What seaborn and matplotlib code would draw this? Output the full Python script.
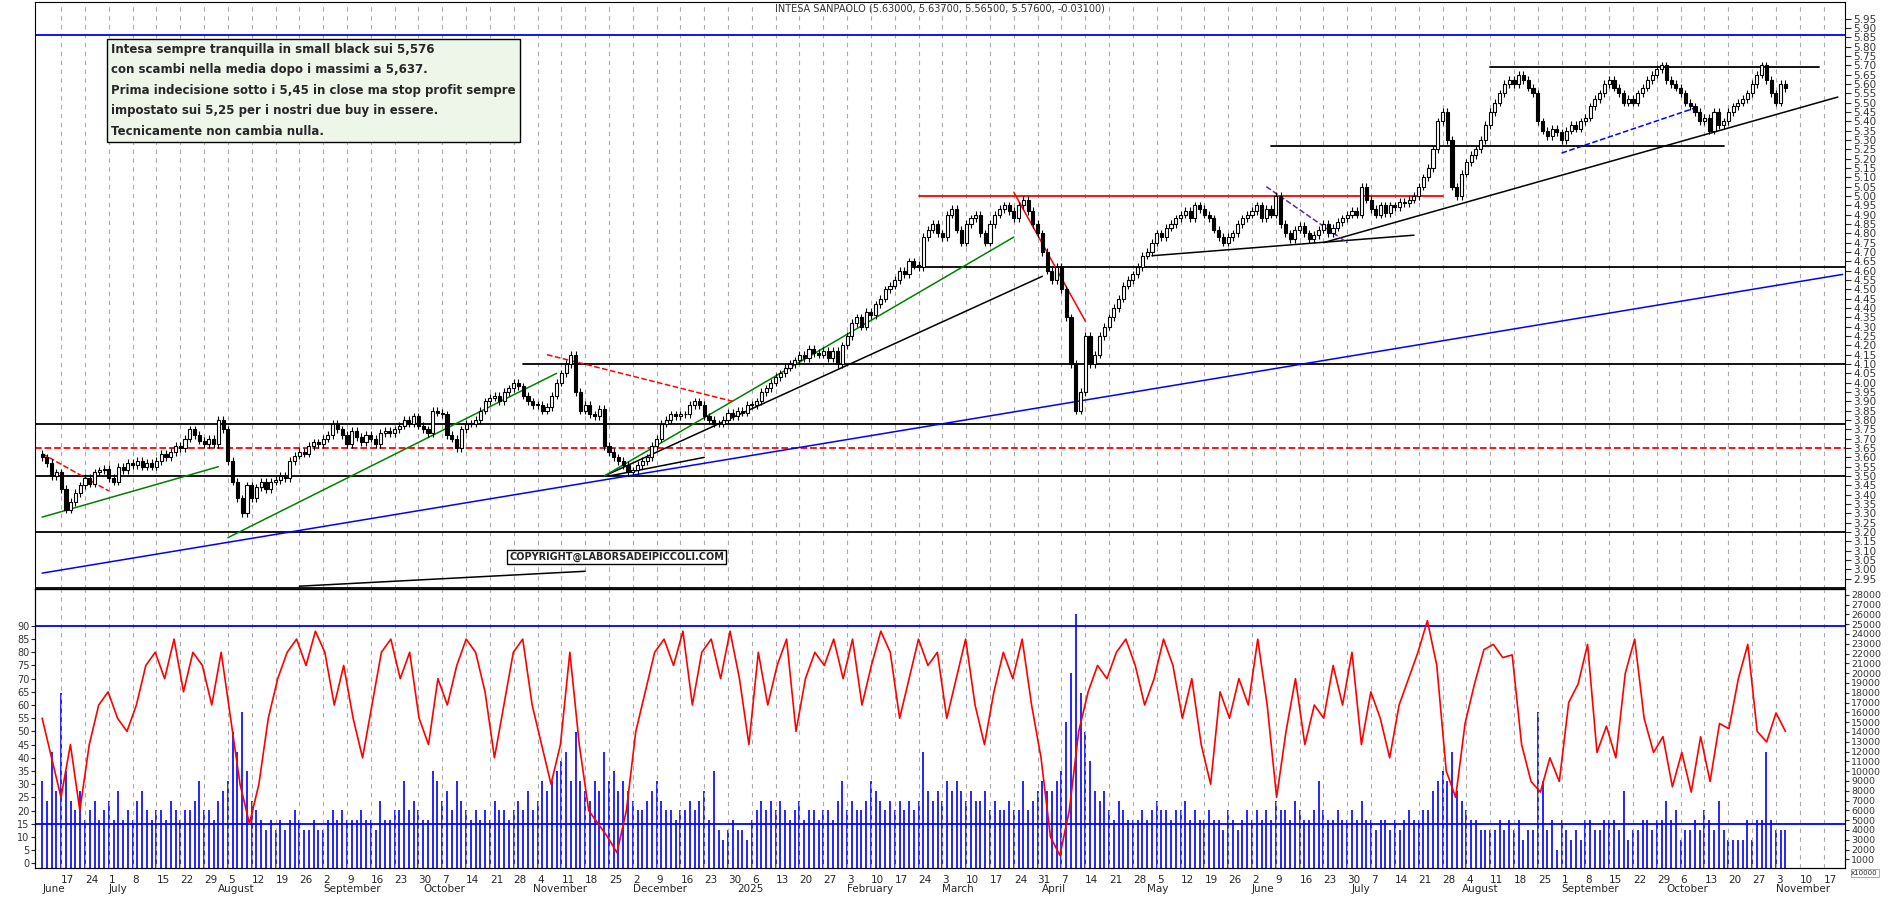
import numpy as np
import pandas as pd
import seaborn as sns
import matplotlib.pyplot as plt

# daily closes, grouped by week (Jun 2024 -> Nov 2025)
closes = [
    3.60, 3.57,
    3.50, 3.52, 3.43, 3.32, 3.36, 3.41, 3.45, 3.49, 3.46, 3.52, 3.53, 3.54, 3.49, 3.47, 3.55,
    3.53, 3.57, 3.56, 3.58, 3.55, 3.57, 3.55, 3.58, 3.62, 3.60, 3.63, 3.66, 3.65, 3.70, 3.75,
    3.72, 3.69, 3.67, 3.70, 3.67, 3.80, 3.75, 3.58, 3.47, 3.38,
    3.30, 3.45, 3.38, 3.44, 3.47, 3.43, 3.47, 3.48, 3.50, 3.49, 3.58, 3.61, 3.63, 3.62, 3.66,
    3.68, 3.67, 3.70, 3.72, 3.78,
    3.75, 3.72, 3.67, 3.74, 3.71, 3.68, 3.72, 3.70, 3.67, 3.73, 3.74, 3.73, 3.75, 3.77, 3.80,
    3.78, 3.82, 3.77, 3.75, 3.73, 3.85, 3.84, 3.83, 3.72, 3.70,
    3.65, 3.75, 3.78, 3.78, 3.80, 3.85, 3.90, 3.92, 3.93, 3.90, 3.95, 3.97, 4.00, 3.98, 3.93,
    3.90, 3.88, 3.88, 3.85, 3.87,
    3.93, 4.00, 4.05, 4.10, 4.15, 3.95, 3.85, 3.88, 3.83, 3.82, 3.86, 3.66, 3.63, 3.60, 3.58,
    3.56, 3.52, 3.53, 3.56, 3.58,
    3.60, 3.66, 3.70, 3.78, 3.80, 3.83, 3.82, 3.83, 3.83, 3.88, 3.90, 3.88, 3.82, 3.80, 3.78,
    3.78, 3.80, 3.84, 3.82, 3.85, 3.84, 3.88, 3.88, 3.90, 3.95,
    3.97, 4.00, 4.03, 4.05, 4.08, 4.10, 4.12, 4.15, 4.13, 4.18, 4.16, 4.15, 4.17, 4.13, 4.17,
    4.10, 4.20, 4.25, 4.32, 4.35,
    4.30, 4.38, 4.36, 4.42, 4.45, 4.50, 4.52, 4.55, 4.60, 4.58, 4.65, 4.63, 4.62, 4.78, 4.82,
    4.85, 4.80, 4.78, 4.90, 4.93,
    4.82, 4.75, 4.85, 4.88, 4.90, 4.80, 4.75, 4.85, 4.90, 4.93, 4.95, 4.92, 4.88, 4.95, 4.98,
    4.92, 4.85, 4.80, 4.70, 4.60, 4.55, 4.62, 4.50, 4.35, 4.10,
    3.85, 3.95, 4.25, 4.10, 4.15, 4.25, 4.30, 4.35, 4.40, 4.45, 4.52, 4.55, 4.58,
    4.62, 4.68, 4.70, 4.75,
    4.80, 4.78, 4.83, 4.85, 4.88, 4.90, 4.92, 4.88, 4.95, 4.93, 4.90, 4.88, 4.82, 4.78, 4.75,
    4.78, 4.80, 4.85, 4.88, 4.90,
    4.92, 4.95, 4.88, 4.93, 4.90, 5.00, 4.85, 4.80, 4.77, 4.82, 4.84, 4.80, 4.77, 4.79, 4.82,
    4.85, 4.80, 4.83, 4.86, 4.88,
    4.90, 4.92, 4.90, 5.05, 4.98, 4.93, 4.90, 4.95, 4.91, 4.95, 4.94, 4.97, 4.96, 4.98, 5.00,
    5.05, 5.10, 5.15, 5.25, 5.40, 5.45, 5.30, 5.05, 5.00, 5.12,
    5.18, 5.22, 5.25, 5.30, 5.38, 5.45, 5.50, 5.55, 5.60, 5.62, 5.60, 5.65, 5.62, 5.58, 5.55,
    5.40, 5.35, 5.32, 5.36, 5.34,
    5.30, 5.35, 5.38, 5.36, 5.40, 5.42, 5.48, 5.52, 5.55, 5.60, 5.62, 5.58, 5.55, 5.50, 5.52,
    5.50, 5.55, 5.58, 5.62, 5.65, 5.68, 5.70, 5.62, 5.60, 5.58,
    5.55, 5.50, 5.48, 5.45, 5.40, 5.42, 5.35, 5.45, 5.38, 5.40, 5.45, 5.48, 5.50, 5.52, 5.55,
    5.60, 5.65, 5.70, 5.62, 5.55, 5.50, 5.60, 5.576,
]
first_open = 3.62

# volume, thousands (right axis units), same grouping
volume = [
    9, 7,
    12, 8, 18, 10, 7, 6, 8, 5, 6, 7, 5, 6, 7, 5, 8,
    5, 6, 5, 7, 8, 6, 5, 6, 6, 5, 7, 6, 5, 6, 6,
    7, 9, 6, 6, 5, 7, 8, 9, 14, 12,
    16, 10, 7, 6, 5, 4, 5, 4, 5, 4, 5, 6, 5, 4, 4,
    5, 4, 4, 5, 6,
    5, 6, 5, 5, 5, 6, 5, 5, 4, 7, 5, 5, 6, 6, 9,
    6, 7, 6, 5, 5, 10, 9, 7, 8, 6,
    9, 7, 6, 5, 6, 5, 6, 5, 7, 6, 6, 5, 6, 7, 6,
    8, 6, 7, 9, 8,
    9, 10, 11, 12, 9, 14, 9, 8, 7, 9, 8, 12, 9, 10, 8,
    9, 8, 7, 6, 6,
    7, 8, 9, 7, 6, 6, 5, 6, 6, 7, 6, 7, 8, 5, 10,
    4, 3, 4, 5, 4, 4, 3, 5, 6, 7,
    6, 7, 6, 7, 6, 5, 6, 7, 5, 6, 6, 5, 6, 6, 5,
    7, 9, 6, 7, 6,
    6, 7, 9, 8, 7, 6, 7, 6, 7, 6, 7, 6, 7, 12, 8,
    7, 8, 7, 9, 8,
    9, 8, 7, 8, 7, 7, 8, 6, 7, 6, 6, 7, 6, 6, 9,
    6, 7, 8, 9, 8, 8, 9, 10, 15, 20,
    26, 18, 14, 11, 8, 7, 8, 6, 5, 7, 6, 5, 5,
    5, 6, 5, 6,
    7, 6, 6, 5, 6, 6, 7, 5, 6, 5, 5, 6, 5, 5, 4,
    6, 5, 4, 5, 6,
    5, 6, 5, 6, 5, 7, 6, 6, 5, 7, 6, 5, 5, 6, 9,
    6, 5, 5, 6, 5,
    5, 6, 5, 7, 5, 5, 4, 5, 5, 4, 5, 4, 5, 6, 5,
    5, 6, 6, 8, 9, 10, 9, 12, 8, 7,
    6, 5, 5, 4, 4, 4, 4, 5, 4, 5, 4, 5, 3, 4, 4,
    16, 9, 4, 5, 2,
    5, 4, 3, 4, 3, 5, 5, 4, 4, 5, 5, 5, 4, 8, 3,
    4, 4, 5, 5, 4, 5, 5, 7, 5, 6,
    3, 4, 4, 5, 4, 6, 5, 4, 7, 4, 3, 3, 3, 3, 5,
    3, 5, 5, 12, 5, 4, 4, 4,
]

# oscillator (left scale 0-90), one reading every second session
oscillator = [
    55, 40, 25, 45, 20, 45, 60, 65, 55,
    50, 60, 75, 80, 70, 85, 65, 80, 75, 60, 80,
    55, 30, 15, 30, 55, 70, 80, 85, 75, 88, 80,
    60, 75, 55, 40, 60, 80, 85, 70, 80, 55, 45,
    70, 60, 75, 85, 80, 65, 40, 60, 80, 85, 60,
    45, 30, 45, 80, 45, 20, 15, 10, 4, 20, 50,
    65, 80, 85, 75, 88, 60, 80, 85, 70, 88, 70,
    45, 80, 60, 75, 85, 50, 70, 80, 75, 85, 70,
    85, 60, 75, 88, 80, 55, 70, 85, 75, 80,
    55, 70, 85, 60, 45, 65, 80, 70, 85, 60, 40,
    10, 3, 20, 50, 65, 75, 70, 80, 85, 75, 60,
    70, 85, 75, 55, 70, 45, 30, 65, 55, 70, 60,
    85, 60, 25, 50, 70, 45, 60, 55, 75, 60, 80,
    45, 65, 55, 40, 60, 70, 80, 92, 75, 35, 25,
    53, 68, 81, 83, 78, 79, 45, 31, 27, 40, 31,
    61, 68, 83, 42, 52, 40, 72, 85, 55, 42, 48,
    29, 42, 27, 48, 31, 53, 51, 70, 83, 50, 46, 57, 50,
]

title = "INTESA SANPAOLO (5.63000, 5.63700, 5.56500, 5.57600, -0.03100)"
note = ("Intesa sempre tranquilla in small black sui 5,576\n"
        "con scambi nella media dopo i massimi a 5,637.\n"
        "Prima indecisione sotto i 5,45 in close ma stop profit sempre\n"
        "impostato sui 5,25 per i nostri due buy in essere.\n"
        "Tecnicamente non cambia nulla.")

# horizontal levels: price, start, end, colour, style
levels = [
    (5.86, None, None, "blue", "-"),
    (5.69, "2025-08-11", "2025-11-14", "black", "-"),
    (5.27, "2025-06-06", "2025-10-17", "black", "-"),
    (5.00, "2025-02-24", "2025-07-28", "red", "-"),
    (4.62, "2025-02-20", None, "black", "-"),
    (4.10, "2024-10-30", None, "black", "-"),
    (3.78, None, None, "black", "-"),
    (3.65, None, None, "red", "--"),
    (3.50, None, None, "black", "-"),
    (3.20, None, None, "black", "-"),
    (2.90, None, None, "black", "-"),
]
# trend lines: (date, price), (date, price), colour, style
trends = [
    (("2024-06-05", 2.98), ("2025-11-21", 4.58), "blue", "-"),
    (("2024-11-22", 3.50), ("2025-04-01", 4.57), "black", "-"),
    (("2024-11-25", 3.50), ("2024-12-23", 3.60), "black", "-"),
    (("2024-06-10", 3.28), ("2024-08-01", 3.55), "green", "-"),
    (("2024-08-05", 3.17), ("2024-11-08", 4.05), "green", "-"),
    (("2024-11-22", 3.50), ("2025-03-24", 4.78), "green", "-"),
    (("2024-06-05", 3.62), ("2024-07-01", 3.42), "red", "--"),
    (("2024-11-06", 4.15), ("2024-12-31", 3.90), "red", "--"),
    (("2025-03-24", 5.02), ("2025-04-14", 4.33), "red", "-"),
    (("2024-08-26", 2.91), ("2024-11-18", 2.99), "black", "-"),
    (("2025-05-02", 4.68), ("2025-07-18", 4.79), "black", "-"),
    (("2025-06-23", 4.75), ("2025-11-20", 5.53), "black", "-"),
    (("2025-06-05", 5.05), ("2025-06-30", 4.75), "#5a2ca0", "--"),
    (("2025-09-01", 5.23), ("2025-10-10", 5.48), "blue", "--"),
]

n = min(len(closes), len(volume))
closes = np.array(closes[:n])
volume = np.array(volume[:n]) * 1000
dates = pd.bdate_range(end="2025-11-05", periods=n)
all_days = pd.bdate_range(start=dates[0], end="2025-11-21")
idx = pd.Series(np.arange(len(all_days)), index=all_days)

def day_x(d):
    return idx.index.get_indexer([pd.Timestamp(d)], method="nearest")[0]

opens = np.concatenate([[first_open], closes[:-1]])
highs = np.maximum(opens, closes) + 0.02
lows = np.minimum(opens, closes) - 0.02
x = np.arange(n)

sns.set_style("white")
plt.rcParams["font.family"] = ["DejaVu Sans"]
fig = plt.figure(figsize=(18.9, 9.02), dpi=100)
L, W = 35 / 1890, 1810 / 1890
ax = fig.add_axes([L, 1 - 589 / 902, W, 589 / 902 - 0.002])
axv = fig.add_axes([L, 34 / 902, W, 279 / 902])
xmin, xmax = -1.5, len(all_days) - 0.5

# candles
ax.vlines(x, lows, highs, color="black", lw=0.8, zorder=3)
up = closes >= opens
body = np.maximum(np.abs(closes - opens), 0.004)
ax.bar(x[up], body[up], bottom=opens[up], width=0.65, color="white",
       edgecolor="black", lw=0.8, zorder=4)
ax.bar(x[~up], body[~up], bottom=closes[~up], width=0.65, color="black",
       edgecolor="black", lw=0.8, zorder=4)

for price, s, e, c, ls in levels:
    x0 = xmin if s is None else day_x(s)
    x1 = xmax if e is None else day_x(e)
    ax.plot([x0, x1], [price, price], color=c, ls=ls, lw=1.3, zorder=2)
for (d0, p0), (d1, p1), c, ls in trends:
    ax.plot([day_x(d0), day_x(d1)], [p0, p1], color=c, ls=ls, lw=1.1, zorder=2)

ax.set_xlim(xmin, xmax)
ax.set_ylim(2.895, 6.04)
ax.yaxis.tick_right()
yt = np.round(np.arange(2.95, 5.951, 0.05), 2)
ax.set_yticks(yt)
ax.set_yticklabels([f"{v:.2f}" for v in yt], fontsize=7.5, color="#333")
ax.tick_params(axis="y", length=4, direction="out", pad=2)
ax.set_xticklabels([])
ax.text(0.5, 0.997, title, transform=ax.transAxes, fontsize=7, ha="center",
        va="top", color="#333")
ax.text(0.042, 0.93, note, transform=ax.transAxes, fontsize=8.5, fontweight="bold",
        va="top", linespacing=1.75,
        bbox=dict(boxstyle="square,pad=0.35", fc="#eef6ea", ec="black", lw=1))
ax.text(0.262, 0.05, "COPYRIGHT@LABORSADEIPICCOLI.COM", transform=ax.transAxes,
        fontsize=7, fontweight="bold",
        bbox=dict(boxstyle="square,pad=0.2", fc="white", ec="black", lw=1))

# lower panel: volume (right scale) + oscillator (left scale)
axr = axv.twinx()
axr.vlines(x, 0, volume, color="blue", lw=1.2)
osc_x = np.linspace(0, n - 1, len(oscillator))
sns.lineplot(x=osc_x, y=oscillator, ax=axv, color="red", lw=1.2, zorder=5)
axv.axhline(90, color="blue", lw=1.3)
axv.axhline(15, color="blue", lw=1.3)
axv.set_ylim(-1.8, 104)
axr.set_ylim(120, 28590)
axv.set_yticks(range(0, 95, 5))
axv.tick_params(axis="y", labelsize=7, labelcolor="#333", length=3, pad=1)
axr.set_yticks(range(1000, 28001, 1000))
axr.tick_params(axis="y", labelsize=6.8, labelcolor="#333", length=3, pad=1.5)
axv.set_xlim(xmin, xmax)
axv.set_zorder(axr.get_zorder() + 1)
axv.patch.set_visible(False)
fig.text(0.9795, 0.030, "x10000", fontsize=5, ha="left",
         bbox=dict(boxstyle="square,pad=0.1", fc="white", ec="#888", lw=0.5))

# weekly grid and date labels
mondays = [i for i, d in enumerate(all_days) if d.weekday() == 0]
for a in (ax, axv):
    for m in mondays:
        a.axvline(m, color="#aaaaaa", ls=(0, (4, 4)), lw=0.8, zorder=0)
axv.set_xticks(mondays)
axv.set_xticklabels([str(all_days[m].day) for m in mondays], fontsize=7.5, ha="left")
axv.tick_params(axis="x", length=5, pad=0)
prev = None
for i, d in enumerate(all_days):
    if d.month != prev:
        lab = "2025" if (d.month == 1) else d.strftime("%B")
        axv.text(i, -0.058, lab, transform=axv.get_xaxis_transform(),
                 fontsize=7.5, va="top", ha="left")
        prev = d.month
for s in ("top", "right", "left", "bottom"):
    for a in (ax, axv, axr):
        a.spines[s].set_color("black")

fig.savefig("out.png", dpi=100)
